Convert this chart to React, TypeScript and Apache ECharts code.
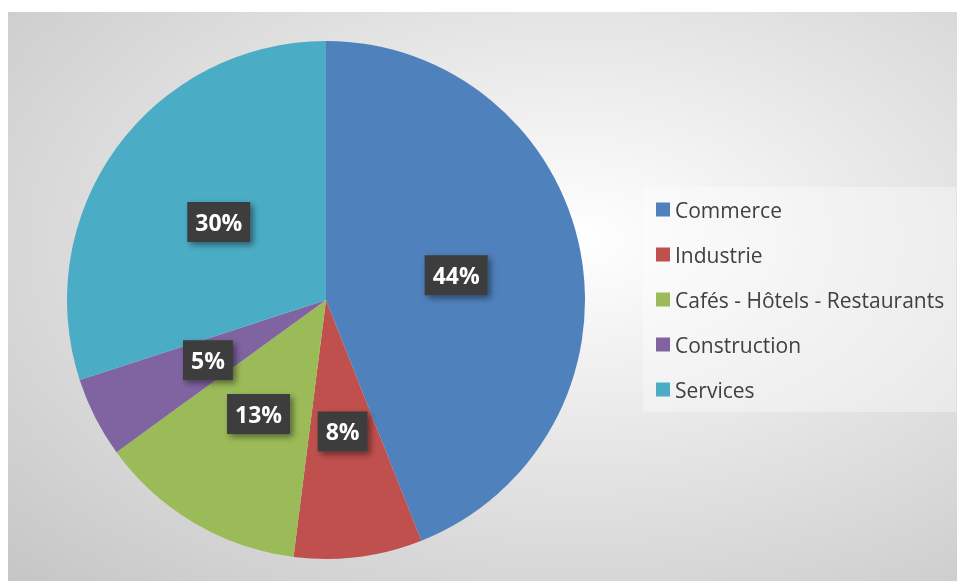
import React, { useEffect, useRef } from "react";
import * as echarts from "echarts";

const categories = ["Commerce", "Industrie", "Cafés - Hôtels - Restaurants", "Construction", "Services"];
const values = [44, 8, 13, 5, 30];
const colors = ["#4f81bd", "#c0504d", "#9bbb59", "#8064a2", "#4bacc6"];

export default function App() {
  const ref = useRef<HTMLDivElement>(null);
  useEffect(() => {
    if (!ref.current) return;
    const chart = echarts.init(ref.current, undefined, { renderer: "svg" });
    chart.setOption({
      animation: false,
      backgroundColor: {
        type: "radial",
        x: 0.6,
        y: 0.4,
        r: 0.9,
        colorStops: [
          { offset: 0, color: "#ffffff" },
          { offset: 1, color: "#c2c2c2" },
        ],
      },
      color: colors,
      legend: {
        orient: "vertical",
        left: 635,
        top: 175,
        padding: [12, 12, 12, 13],
        backgroundColor: "rgba(255,255,255,0.35)",
        itemWidth: 14,
        itemHeight: 14,
        itemGap: 24,
        icon: "rect",
        textStyle: { fontFamily: "Open Sans", fontSize: 21, color: "#404040" },
        data: categories,
      },
      series: [
        {
          type: "pie",
          center: [318, 288],
          radius: 259,
          startAngle: 90,
          clockwise: true,
          avoidLabelOverlap: false,
          label: {
            show: true,
            position: "inside",
            formatter: "{c}%",
            color: "#ffffff",
            fontFamily: "Open Sans",
            fontWeight: "bold",
            fontSize: 23,
            backgroundColor: "#3d3d3d",
            padding: [10, 8, 7, 8],
            shadowColor: "rgba(0,0,0,0.45)",
            shadowBlur: 6,
            shadowOffsetX: 3,
            shadowOffsetY: 3,
          },
          labelLine: { show: false },
          emphasis: { disabled: true },
          data: categories.map((c, i) => ({ name: c, value: values[i] })),
        },
      ],
    });
    return () => chart.dispose();
  }, []);
  return (
    <div
      ref={ref}
      style={{ position: "fixed", left: 8, top: 12, width: 949, height: 569 }}
    />
  );
}
